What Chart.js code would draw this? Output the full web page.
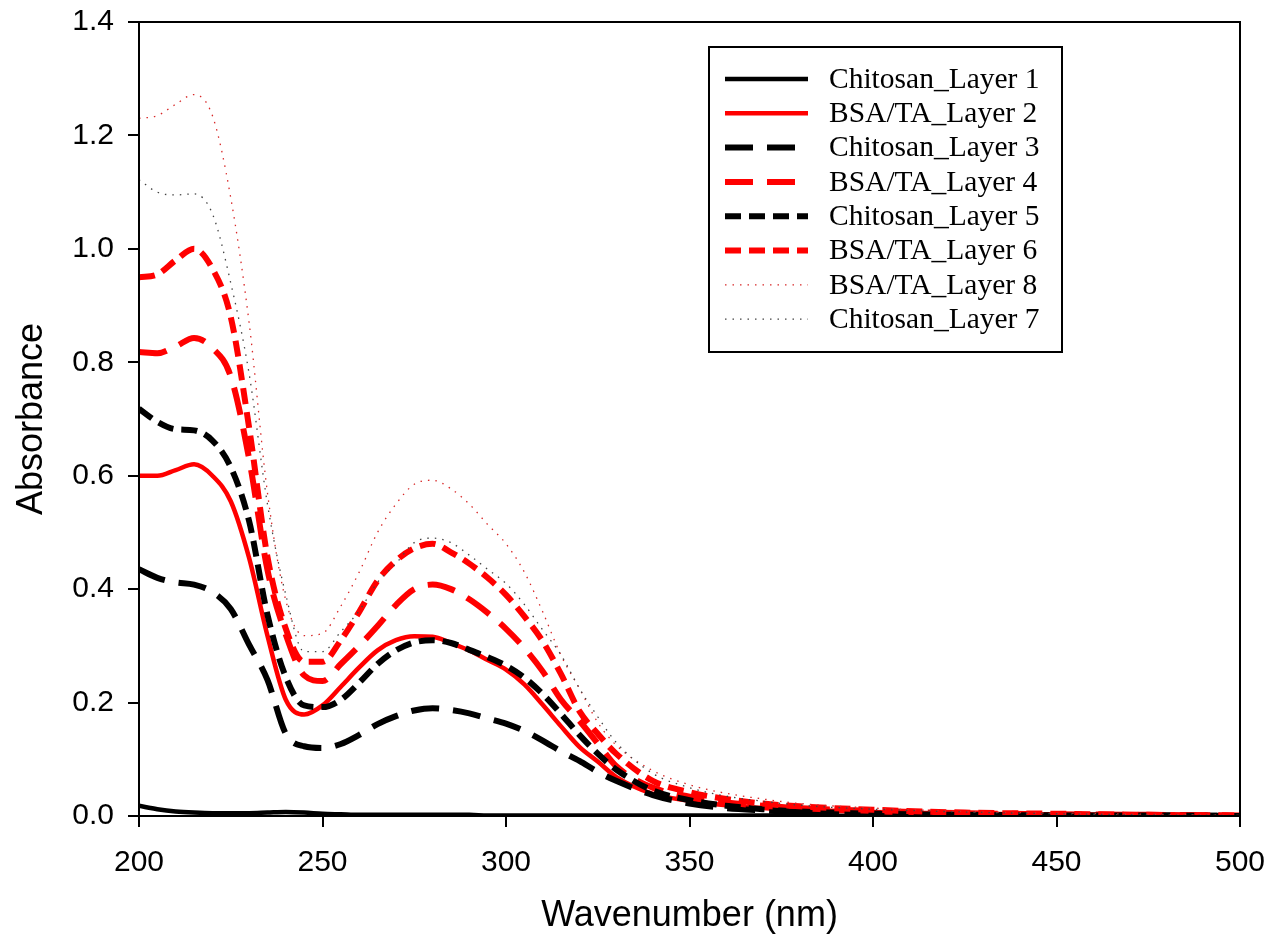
<!DOCTYPE html>
<html>
<head>
<meta charset="utf-8">
<script src="https://cdn.jsdelivr.net/npm/chart.js@4.4.0/dist/chart.umd.min.js"></script>
<style>
  html, body { margin: 0; padding: 0; background: #fff; }
  #wrap { width: 1269px; height: 938px; }
</style>
</head>
<body>
<div id="wrap"><canvas id="chart" width="1269" height="938"></canvas></div>
<script>
// 波長（nm）
const wavelengths = [200, 205, 210, 215, 220, 225, 230, 235, 240, 245, 250, 255, 260, 265, 270, 275, 280, 285, 290, 295,
  300, 305, 310, 315, 320, 325, 330, 340, 350, 360, 370, 380, 400, 425, 450, 475, 500];

// 各層の吸光度
const chitosanLayer1 = [0.018, 0.012, 0.008, 0.006, 0.005, 0.005, 0.005, 0.006, 0.007, 0.006, 0.004, 0.003, 0.002, 0.002, 0.002, 0.002, 0.002, 0.002, 0.002, 0.001,
  0.001, 0.001, 0.001, 0.001, 0.001, 0.001, 0.001, 0.001, 0.001, 0.001, 0.001, 0.001, 0, 0, 0, 0, 0];
const bsaLayer2 = [0.600, 0.600, 0.610, 0.620, 0.600, 0.555, 0.455, 0.318, 0.205, 0.179, 0.195, 0.228, 0.262, 0.292, 0.310, 0.317, 0.316, 0.305, 0.292, 0.275,
  0.258, 0.232, 0.196, 0.158, 0.122, 0.096, 0.069, 0.039, 0.027, 0.019, 0.014, 0.011, 0.007, 0.004, 0.003, 0.002, 0.001];
const chitosanLayer3 = [0.435, 0.420, 0.412, 0.408, 0.395, 0.365, 0.302, 0.240, 0.145, 0.123, 0.120, 0.127, 0.143, 0.162, 0.176, 0.186, 0.190, 0.187, 0.181, 0.172,
  0.163, 0.150, 0.133, 0.114, 0.097, 0.078, 0.062, 0.037, 0.022, 0.014, 0.010, 0.007, 0.004, 0.002, 0.001, 0.001, 0];
const bsaLayer4 = [0.818, 0.816, 0.828, 0.843, 0.825, 0.775, 0.630, 0.434, 0.320, 0.248, 0.238, 0.268, 0.300, 0.335, 0.372, 0.400, 0.408, 0.400, 0.382, 0.358,
  0.330, 0.296, 0.255, 0.205, 0.168, 0.128, 0.088, 0.050, 0.034, 0.024, 0.018, 0.014, 0.009, 0.005, 0.003, 0.002, 0.001];
const chitosanLayer5 = [0.718, 0.695, 0.682, 0.680, 0.662, 0.615, 0.520, 0.355, 0.245, 0.195, 0.192, 0.205, 0.235, 0.268, 0.292, 0.306, 0.310, 0.305, 0.293, 0.280,
  0.265, 0.244, 0.215, 0.180, 0.143, 0.110, 0.082, 0.045, 0.028, 0.018, 0.012, 0.008, 0.004, 0.002, 0.001, 0.001, 0];
const bsaLayer6 = [0.950, 0.955, 0.980, 1.000, 0.965, 0.880, 0.685, 0.457, 0.330, 0.272, 0.272, 0.310, 0.360, 0.415, 0.450, 0.472, 0.480, 0.465, 0.445, 0.420,
  0.390, 0.352, 0.308, 0.250, 0.185, 0.145, 0.110, 0.062, 0.042, 0.030, 0.022, 0.017, 0.011, 0.006, 0.004, 0.002, 0.001];
const bsaLayer8 = [1.230, 1.235, 1.255, 1.272, 1.235, 1.090, 0.870, 0.570, 0.380, 0.318, 0.322, 0.370, 0.430, 0.500, 0.550, 0.585, 0.592, 0.577, 0.550, 0.514,
  0.480, 0.430, 0.360, 0.283, 0.225, 0.165, 0.125, 0.080, 0.055, 0.040, 0.030, 0.022, 0.014, 0.008, 0.005, 0.003, 0.001];
const chitosanLayer7 = [1.122, 1.100, 1.095, 1.097, 1.062, 0.940, 0.780, 0.550, 0.390, 0.290, 0.290, 0.325, 0.362, 0.412, 0.445, 0.482, 0.490, 0.482, 0.460, 0.435,
  0.410, 0.373, 0.328, 0.284, 0.225, 0.175, 0.130, 0.075, 0.050, 0.035, 0.026, 0.019, 0.012, 0.007, 0.004, 0.002, 0.001];

const xTicks = [200, 250, 300, 350, 400, 450, 500];
const yTicks = [0.0, 0.2, 0.4, 0.6, 0.8, 1.0, 1.2, 1.4];

// 系列名・線の種類（凡例の順番どおり）
const seriesList = [
  { label: "Chitosan_Layer 1", values: chitosanLayer1, color: "#000000", width: 4.5, dash: [] },
  { label: "BSA/TA_Layer 2", values: bsaLayer2, color: "#ff0000", width: 4.5, dash: [] },
  { label: "Chitosan_Layer 3", values: chitosanLayer3, color: "#000000", width: 6, dash: [28, 14] },
  { label: "BSA/TA_Layer 4", values: bsaLayer4, color: "#ff0000", width: 6, dash: [28, 14] },
  { label: "Chitosan_Layer 5", values: chitosanLayer5, color: "#000000", width: 6, dash: [16, 8] },
  { label: "BSA/TA_Layer 6", values: bsaLayer6, color: "#ff0000", width: 6, dash: [16, 8] },
  { label: "BSA/TA_Layer 8", values: bsaLayer8, color: "#d82828", width: 1.3, dash: [1.5, 6] },
  { label: "Chitosan_Layer 7", values: chitosanLayer7, color: "#444444", width: 1.3, dash: [1.5, 6] },
];

const datasets = seriesList.map((s, i) => ({
  label: s.label,
  data: wavelengths.map((w, j) => ({ x: w, y: s.values[j] })),
  borderColor: s.color,
  borderWidth: s.width,
  borderDash: s.dash,
  pointRadius: 0,
  fill: false,
  cubicInterpolationMode: "monotone",
  order: seriesList.length - i,
}));

// 枠線と凡例を描くプラグイン
const frameAndLegend = {
  id: "frameAndLegend",
  afterDatasetsDraw(chart) {
    const ctx = chart.ctx;
    const a = chart.chartArea;
    ctx.save();
    ctx.strokeStyle = "#000";
    ctx.lineWidth = 2;
    ctx.setLineDash([]);
    ctx.strokeRect(a.left, a.top, a.right - a.left, a.bottom - a.top);

    // 凡例の箱
    const bx = 709, by = 47, bw = 353, bh = 305;
    ctx.fillStyle = "#fff";
    ctx.fillRect(bx, by, bw, bh);
    ctx.strokeRect(bx, by, bw, bh);
    ctx.font = "29.5px 'Liberation Serif', 'Times New Roman', serif";
    ctx.textBaseline = "middle";
    ctx.textAlign = "left";
    seriesList.forEach((s, i) => {
      const y = 79 + i * 34.3;
      ctx.beginPath();
      ctx.strokeStyle = s.color;
      ctx.lineWidth = s.width;
      ctx.setLineDash(s.dash);
      ctx.moveTo(725, y);
      ctx.lineTo(808, y);
      ctx.stroke();
      ctx.fillStyle = "#000";
      ctx.fillText(s.label, 829, y + 1);
    });
    ctx.restore();
  }
};

const tickFont = { family: "'Liberation Sans', Arial, sans-serif", size: 30 };
const titleFont = { family: "'Liberation Sans', Arial, sans-serif", size: 36 };

new Chart(document.getElementById("chart"), {
  type: "line",
  data: { datasets },
  options: {
    responsive: false,
    animation: false,
    layout: { padding: { top: 22, right: 29, left: 0, bottom: 0 } },
    plugins: { legend: { display: false }, tooltip: { enabled: false } },
    scales: {
      x: {
        type: "linear",
        min: 200,
        max: 500,
        afterFit(scale) { scale.height = 122; scale.paddingLeft = 0; scale.paddingRight = 0; },
        afterBuildTicks(scale) { scale.ticks = xTicks.map(v => ({ value: v })); },
        ticks: { font: tickFont, color: "#000", padding: 18, maxRotation: 0 },
        grid: { drawOnChartArea: false, drawTicks: true, tickLength: 11, color: "#000", lineWidth: 2 },
        border: { display: true, color: "#000", width: 2 },
        title: { display: true, text: "Wavenumber (nm)", font: titleFont, color: "#000", padding: { top: 0, bottom: 0 } },
      },
      y: {
        type: "linear",
        min: 0,
        max: 1.4,
        afterFit(scale) { scale.width = 139; scale.paddingTop = 0; scale.paddingBottom = 0; },
        afterBuildTicks(scale) { scale.ticks = yTicks.map(v => ({ value: v })); },
        ticks: { font: tickFont, color: "#000", padding: 14, callback: v => v.toFixed(1) },
        grid: { drawOnChartArea: false, drawTicks: true, tickLength: 11, color: "#000", lineWidth: 2 },
        border: { display: true, color: "#000", width: 2 },
        title: { display: true, text: "Absorbance", font: titleFont, color: "#000", padding: { top: 10, bottom: 0 } },
      },
    },
  },
  plugins: [frameAndLegend],
});
</script>
</body>
</html>
